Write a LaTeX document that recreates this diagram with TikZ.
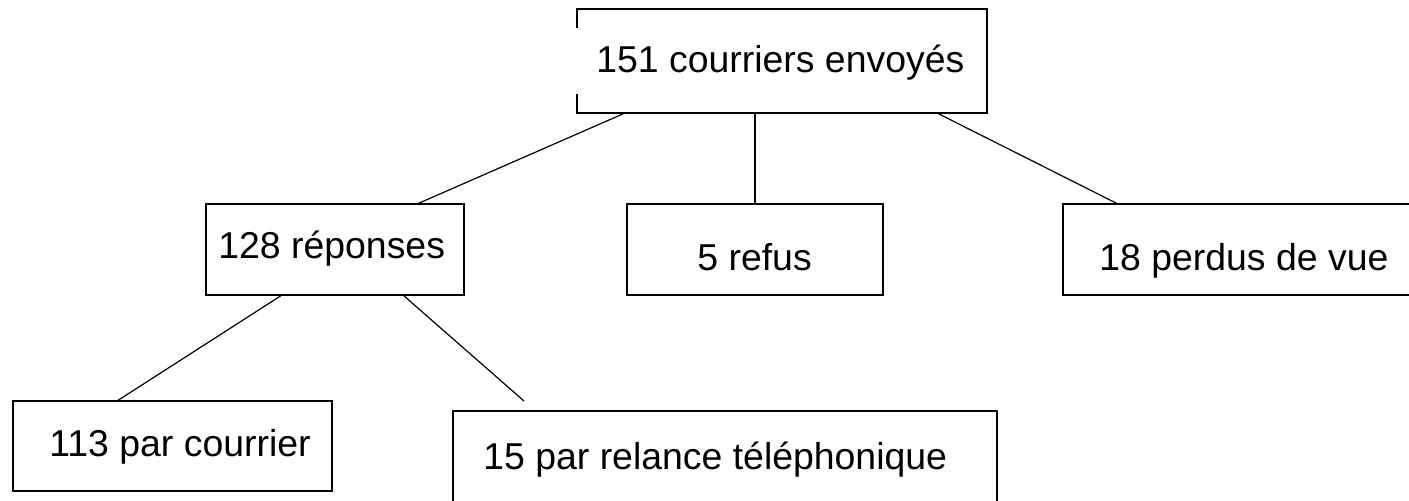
\documentclass[tikz,border=0pt]{standalone}
\usepackage{fontspec}
\setmainfont{Liberation Sans}
\usetikzlibrary{calc}
\begin{document}
\begin{tikzpicture}[x=0.5pt,y=-0.5pt,
  box/.style={draw=black,line width=0.8pt,inner sep=0pt,outer sep=0pt,rectangle},
  label/.style={anchor=base west,inner sep=0pt,font=\fontsize{18.7}{22}\selectfont},
  link/.style={draw=black,line width=0.6pt}]
\useasboundingbox (0,0) rectangle (1409,500);
\clip (0,0) rectangle (1409,500);
\fill[white] (0,0) rectangle (1409,500);

% boxes
\node[box,draw=none,minimum width=205pt,minimum height=52pt] (b1) at (782,61) {};
\draw[line width=0.8pt] ($(b1.north west)+(0,19)$) -- (b1.north west) -- (b1.north east)
  -- (b1.south east) -- (b1.south west) -- ($(b1.south west)+(0,-19)$);
\node[box,minimum width=129pt,minimum height=45.5pt] (b2) at (335,249.5) {};
\node[box,minimum width=128pt,minimum height=45.5pt] (b3) at (755,249.5) {};
\node[box,minimum width=183.5pt,minimum height=45.5pt] (b4) at (1246.5,249.5) {};
\node[box,minimum width=159.5pt,minimum height=45pt] (b5) at (172.5,446) {};
\node[box,minimum width=272pt,minimum height=54.5pt] (b6) at (725,465.5) {};

% texts
\node[label] (t1) at (596,72) {151 courriers envoyés};
\node[label] (t2) at (218,258) {128 réponses};
\node[label] (t3) at (697,270) {5 refus};
\node[label] (t4) at (1099,270) {18 perdus de vue};
\node[label] (t5) at (49,456) {113 par courrier};
\node[label] (t6) at (483,469) {15 par relance téléphonique};

% connectors
\coordinate (e) at (524,401);
\path[link] ($(b1.south west)+(48,0)$) -- ($(b2.north west)+(211,0)$);
\path[link] ($(b1.south west)+(178,0)$) -- (b3.north);
\path[link] ($(b1.south west)+(360,0)$) -- ($(b4.north west)+(55,0)$);
\path[link] ($(b2.south west)+(76,0)$) -- ($(b5.north west)+(104,0)$);
\path[link] ($(b2.south west)+(197,0)$) -- (e);
\end{tikzpicture}
\end{document}
